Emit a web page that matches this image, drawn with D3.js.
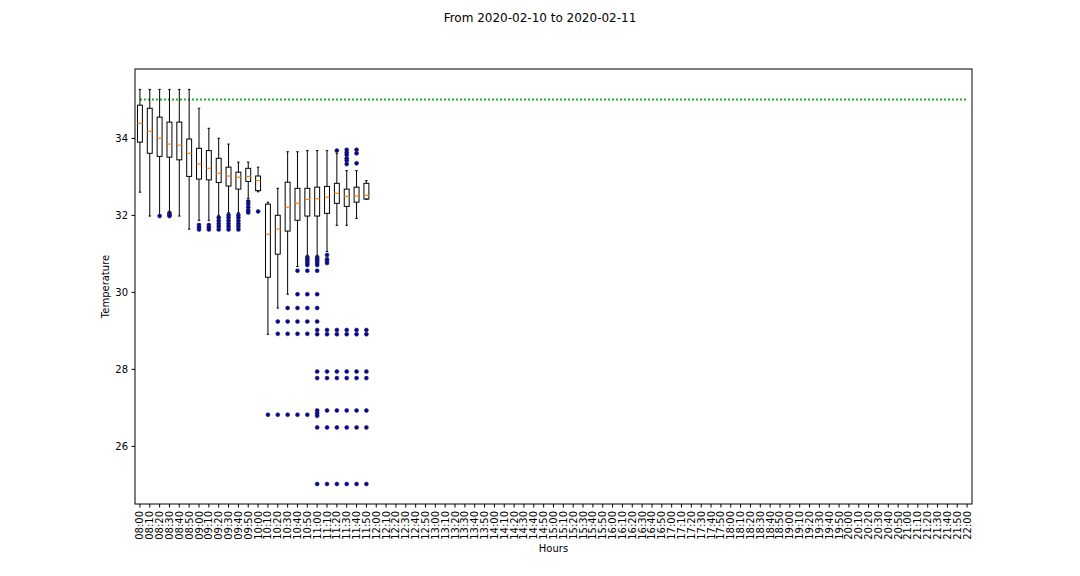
<!DOCTYPE html>
<html>
<head>
<meta charset="utf-8">
<script src="https://cdn.jsdelivr.net/npm/d3@7"></script>
<style>
  html, body { margin: 0; padding: 0; background: #fff; }
  svg { display: block; font-family: "DejaVu Sans", sans-serif; }
</style>
</head>
<body>
<svg id="chart" width="1080" height="576"></svg>
<script>
// ---- data ----
const hours = ["08:00","08:10","08:20","08:30","08:40","08:50","09:00","09:10","09:20","09:30","09:40","09:50",
  "10:00","10:10","10:20","10:30","10:40","10:50","11:00","11:10","11:20","11:30","11:40","11:50",
  "12:00","12:10","12:20","12:30","12:40","12:50","13:00","13:10","13:20","13:30","13:40","13:50",
  "14:00","14:10","14:20","14:30","14:40","14:50","15:00","15:10","15:20","15:30","15:40","15:50",
  "16:00","16:10","16:20","16:30","16:40","16:50","17:00","17:10","17:20","17:30","17:40","17:50",
  "18:00","18:10","18:20","18:30","18:40","18:50","19:00","19:10","19:20","19:30","19:40","19:50",
  "20:00","20:10","20:20","20:30","20:40","20:50","21:00","21:10","21:20","21:30","21:40","21:50","22:00"];

const boxHours   = ["08:00","08:10","08:20","08:30","08:40","08:50","09:00","09:10","09:20","09:30","09:40","09:50",
  "10:00","10:10","10:20","10:30","10:40","10:50","11:00","11:10","11:20","11:30","11:40","11:50"];
const whiskerLow = [32.59,31.97,32.00,32.09,31.97,31.63,31.86,31.86,31.99,32.06,32.06,32.43,
  32.60,28.90,29.58,29.94,30.66,30.95,30.95,31.05,31.73,31.73,31.91,32.41];
const q1         = [33.89,33.60,33.52,33.50,33.43,33.00,32.93,32.91,32.84,32.75,32.67,32.87,
  32.63,30.38,30.98,31.58,31.86,31.97,31.97,32.04,32.30,32.22,32.33,32.41];
const median     = [34.38,34.17,33.99,33.84,33.81,33.60,33.32,33.21,33.08,33.01,32.98,33.00,
  32.89,31.50,31.63,32.20,32.30,32.40,32.42,32.46,32.56,32.48,32.49,32.51];
const q3         = [34.85,34.77,34.54,34.41,34.41,33.97,33.73,33.67,33.47,33.24,33.11,33.21,
  33.01,32.28,31.99,32.85,32.69,32.69,32.72,32.74,32.82,32.67,32.72,32.82];
const whiskerHigh= [35.26,35.26,35.26,35.26,35.26,35.26,34.77,34.25,33.99,33.84,33.37,33.37,
  33.24,32.33,32.69,33.64,33.64,33.67,33.67,33.67,33.60,33.15,33.15,32.89];
const fliers = [
  [],
  [],
  [31.97],
  [32.05,32.02,31.99,31.97],
  [],
  [],
  [31.74,31.68,31.62],
  [31.74,31.68,31.62],
  [31.93,31.85,31.77,31.70,31.62],
  [32.00,31.93,31.85,31.77,31.70,31.62],
  [32.00,31.93,31.85,31.77,31.70,31.62],
  [32.35,32.28,32.20,32.12,32.06],
  [32.09],
  [26.81],
  [29.23,28.91,26.81],
  [29.58,29.23,28.91,26.81],
  [30.55,29.94,29.58,29.23,28.91,26.81],
  [30.90,30.85,30.80,30.75,30.70,30.55,29.94,29.58,29.23,28.91,26.81],
  [30.90,30.85,30.80,30.75,30.70,30.55,29.94,29.58,29.23,29.01,28.90,27.93,27.76,26.92,26.85,26.78,26.48,25.01],
  [30.96,30.85,30.80,30.75,29.01,28.90,27.93,27.76,26.92,26.48,25.01],
  [33.67,29.01,28.90,27.93,27.76,26.92,26.48,25.01],
  [33.69,33.62,33.56,33.47,33.41,33.32,29.01,28.90,27.93,27.76,26.92,26.48,25.01],
  [33.69,33.60,33.34,29.01,28.90,27.93,27.76,26.92,26.48,25.01],
  [29.01,28.90,27.93,27.76,26.92,26.48,25.01]
];
const threshold = 35;
const yTicks = [26, 28, 30, 32, 34];
const yDomain = [24.49, 35.79];

// ---- layout ----
const W = 1080, H = 576;
const L = 135, R = 972, T = 69, B = 504;

const svg = d3.select("#chart");
svg.append("rect").attr("width", W).attr("height", H).attr("fill", "#fff");

const x = d3.scaleBand().domain(hours).range([L, R]).padding(0);
const y = d3.scaleLinear().domain(yDomain).range([B, T]);
const bw = x.bandwidth();
const cx = h => x(h) + bw / 2;
const boxW = bw * 0.5;
const capW = boxW * 0.5;

// threshold line (from first to last category)
svg.append("line")
  .attr("x1", cx(hours[0])).attr("x2", cx(hours[hours.length - 1]))
  .attr("y1", y(threshold)).attr("y2", y(threshold))
  .attr("stroke", "#2ca02c").attr("stroke-width", 2)
  .attr("stroke-dasharray", "2,2");

const g = svg.append("g");
boxHours.forEach((h, i) => {
  const c = cx(h);
  const gg = g.append("g");
  // whiskers
  gg.append("line").attr("x1", c).attr("x2", c).attr("y1", y(q3[i])).attr("y2", y(whiskerHigh[i]))
    .attr("stroke", "#000").attr("stroke-width", 1);
  gg.append("line").attr("x1", c).attr("x2", c).attr("y1", y(q1[i])).attr("y2", y(whiskerLow[i]))
    .attr("stroke", "#000").attr("stroke-width", 1);
  // caps
  gg.append("line").attr("x1", c - capW / 2).attr("x2", c + capW / 2).attr("y1", y(whiskerHigh[i])).attr("y2", y(whiskerHigh[i]))
    .attr("stroke", "#000").attr("stroke-width", 1);
  gg.append("line").attr("x1", c - capW / 2).attr("x2", c + capW / 2).attr("y1", y(whiskerLow[i])).attr("y2", y(whiskerLow[i]))
    .attr("stroke", "#000").attr("stroke-width", 1);
  // box
  gg.append("rect").attr("x", c - boxW / 2).attr("width", boxW)
    .attr("y", y(q3[i])).attr("height", Math.max(0.5, y(q1[i]) - y(q3[i])))
    .attr("fill", "none").attr("stroke", "#000").attr("stroke-width", 1);
  // median
  gg.append("line").attr("x1", c - boxW / 2).attr("x2", c + boxW / 2).attr("y1", y(median[i])).attr("y2", y(median[i]))
    .attr("stroke", "#ff7f0e").attr("stroke-width", 1.2);
  // fliers
  gg.selectAll("circle").data(fliers[i]).enter().append("circle")
    .attr("cx", c).attr("cy", d => y(d)).attr("r", 2)
    .attr("fill", "#0000b0").attr("stroke", "#333").attr("stroke-width", 0.6);
});

// frame
svg.append("rect").attr("x", L).attr("y", T).attr("width", R - L).attr("height", B - T)
  .attr("fill", "none").attr("stroke", "#000").attr("stroke-width", 1);

// y axis
const yAxis = svg.append("g").attr("transform", `translate(${L},0)`)
  .call(d3.axisLeft(y).tickValues(yTicks).tickSize(3.5).tickPadding(3.5).tickFormat(d3.format("d")));
yAxis.select(".domain").remove();
yAxis.selectAll("text").attr("font-size", 10).attr("fill", "#000").attr("font-family", "DejaVu Sans, sans-serif");

// x axis
const xAxis = svg.append("g").attr("transform", `translate(0,${B})`)
  .call(d3.axisBottom(x).tickSize(3.5).tickPadding(3.5));
xAxis.select(".domain").remove();
xAxis.selectAll("text")
  .attr("font-size", 10).attr("fill", "#000").attr("font-family", "DejaVu Sans, sans-serif")
  .attr("transform", "rotate(-90)")
  .attr("text-anchor", "end")
  .attr("x", -7).attr("y", 0).attr("dy", "0.35em");

// labels
svg.append("text").attr("x", (L + R) / 2).attr("y", 552).attr("text-anchor", "middle")
  .attr("font-size", 10).text("Hours");
svg.append("text").attr("transform", `translate(109,${(T + B) / 2}) rotate(-90)`)
  .attr("text-anchor", "middle").attr("font-size", 10).text("Temperature");
svg.append("text").attr("x", W / 2).attr("y", 22).attr("text-anchor", "middle")
  .attr("font-size", 12).text("From 2020-02-10 to 2020-02-11");
</script>
</body>
</html>
